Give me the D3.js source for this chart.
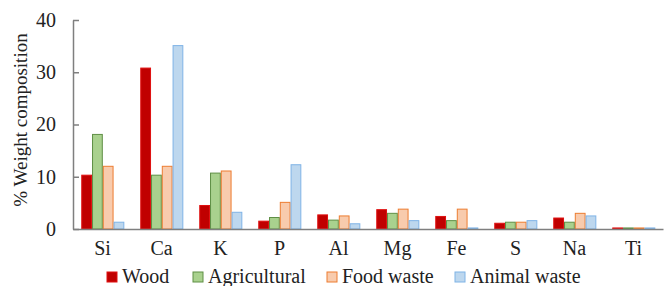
<!DOCTYPE html>
<html>
<head>
<meta charset="utf-8">
<script src="https://cdn.jsdelivr.net/npm/d3@7"></script>
<style>
  body { margin: 0; background: #fff; }
  svg text { font-family: "Times New Roman", "Liberation Serif", "DejaVu Serif", serif !important; }
</style>
</head>
<body>
<script>
// elements on the x axis
const elements = ['Si', 'Ca', 'K', 'P', 'Al', 'Mg', 'Fe', 'S', 'Na', 'Ti'];
const seriesNames = ['Wood', 'Agricultural', 'Food waste', 'Animal waste'];

// % weight composition per source
const wood = [10.3, 30.8, 4.5, 1.5, 2.7, 3.7, 2.4, 1.1, 2.1, 0.2];
const agricultural = [18.1, 10.3, 10.7, 2.2, 1.7, 3.0, 1.6, 1.3, 1.3, 0.2];
const foodWaste = [12.0, 12.0, 11.1, 5.1, 2.5, 3.8, 3.8, 1.3, 3.0, 0.2];
const animalWaste = [1.3, 35.1, 3.2, 12.3, 1.0, 1.6, 0.2, 1.6, 2.5, 0.2];
const yTicks = [0, 10, 20, 30, 40];

const allSeries = [wood, agricultural, foodWaste, animalWaste];
const fills = ['#c00000', '#a9d18e', '#f8cbad', '#bdd7ee'];
const strokes = ['#e01010', '#5f8f45', '#ed7d31', '#7fb3e6'];

const width = 664, height = 286;
const plotLeft = 73, plotRight = 663, plotTop = 20, plotBottom = 229;

const svg = d3.select('body')
              .append('svg')
              .attr('width', width)
              .attr('height', height);

const xscale = d3.scaleBand()
                .domain(elements)
                .range([plotLeft, plotRight]);

const inner = d3.scaleBand()
                .domain(d3.range(4))
                .range([xscale.bandwidth() * 0.14, xscale.bandwidth() * 0.87]);

const yscale = d3.scaleLinear()
                .domain([0, 40])
                .range([plotBottom, plotTop]);

// bars
const groups = svg.selectAll('g.grp')
  .data(elements)
  .enter().append('g')
  .attr('class', 'grp')
  .attr('transform', d => `translate(${xscale(d)},0)`);

groups.selectAll('rect')
  .data((d, i) => allSeries.map((s, k) => ({k, v: s[i]})))
  .enter().append('rect')
  .attr('x', d => inner(d.k) + 0.5)
  .attr('y', d => yscale(d.v))
  .attr('width', inner.bandwidth() - 1)
  .attr('height', d => plotBottom - yscale(d.v))
  .attr('fill', d => fills[d.k])
  .attr('stroke', d => strokes[d.k])
  .attr('stroke-width', 1);

// y axis with inward ticks
const y_axis = d3.axisLeft(yscale)
  .tickValues(yTicks)
  .tickSizeInner(-6)
  .tickSizeOuter(0)
  .tickPadding(17);

const yg = svg.append('g')
  .attr('transform', `translate(${plotLeft},0)`)
  .call(y_axis);
yg.select('.domain').attr('stroke', '#7f7f7f').attr('stroke-width', 1.5);
yg.selectAll('.tick line').attr('stroke', '#7f7f7f').attr('stroke-width', 1.5);
yg.selectAll('text').style('font-size', '20px').attr('fill', '#222');

// x axis, no ticks
const x_axis = d3.axisBottom(xscale).tickSize(0).tickPadding(12);
const xg = svg.append('g')
  .attr('transform', `translate(0,${plotBottom})`)
  .call(x_axis);
xg.select('.domain').attr('stroke', '#7f7f7f').attr('stroke-width', 1.5);
xg.selectAll('text').style('font-size', '20px').attr('fill', '#222');

// y label
svg.append('text')
  .attr('transform', 'translate(27,120) rotate(-90)')
  .attr('text-anchor', 'middle')
  .attr('fill', '#222')
  .style('font-size', '19px')
  .text('% Weight composition');

// legend
const legendX = [107, 193, 327, 455];
const lg = svg.selectAll('g.legend')
  .data(seriesNames)
  .enter().append('g')
  .attr('class', 'legend')
  .attr('transform', (d, i) => `translate(${legendX[i]},272)`);

lg.append('rect')
  .attr('width', 10)
  .attr('height', 10)
  .attr('fill', (d, i) => fills[i])
  .attr('stroke', (d, i) => strokes[i]);

lg.append('text')
  .attr('x', 15)
  .attr('y', 11)
  .attr('fill', '#222')
  .style('font-size', '20px')
  .text(d => d);
</script>
</body>
</html>
